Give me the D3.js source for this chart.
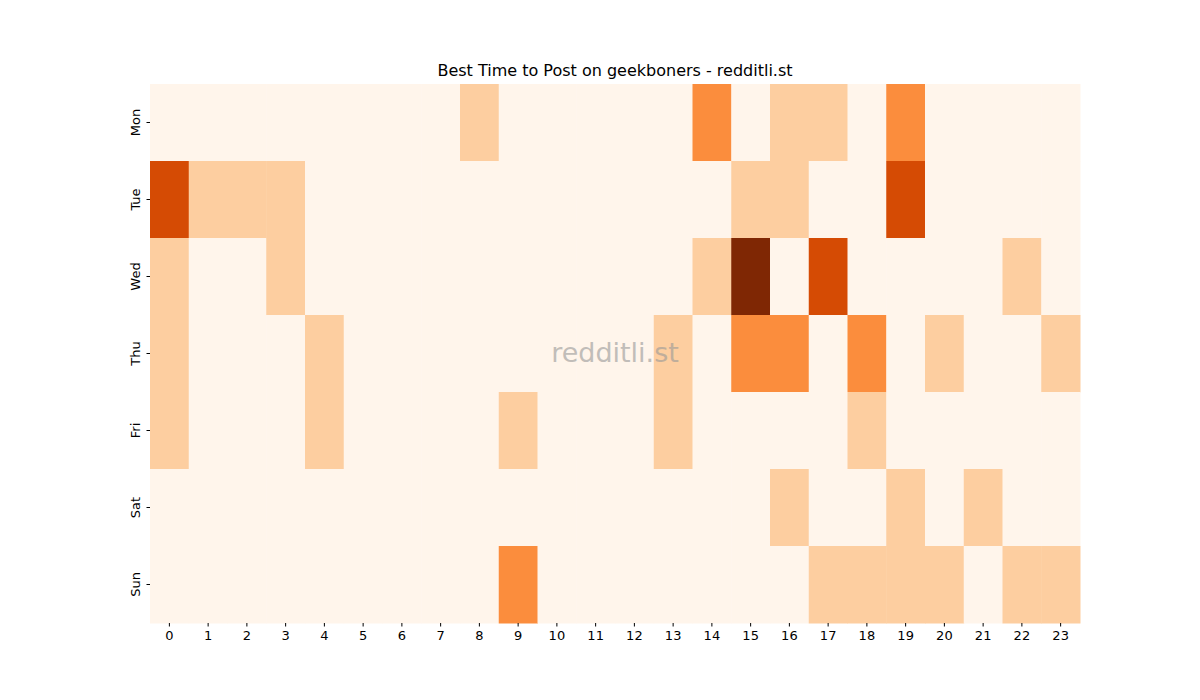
<!DOCTYPE html>
<html>
<head>
<meta charset="utf-8">
<script src="https://cdn.jsdelivr.net/npm/d3@7"></script>
<style>
body { margin: 0; background: #fff; }
text { font-family: "DejaVu Sans", sans-serif; }
</style>
</head>
<body>
<svg id="chart" width="1200" height="700"></svg>
<script>
var days = ["Mon", "Tue", "Wed", "Thu", "Fri", "Sat", "Sun"];
var hours = d3.range(24);

// post counts per hour, one array per day
var mon = [0,0,0,0,0,0,0,0,1,0,0,0,0,0,2,0,1,1,0,2,0,0,0,0];
var tue = [3,1,1,1,0,0,0,0,0,0,0,0,0,0,0,1,1,0,0,3,0,0,0,0];
var wed = [1,0,0,1,0,0,0,0,0,0,0,0,0,0,1,4,0,3,0,0,0,0,1,0];
var thu = [1,0,0,0,1,0,0,0,0,0,0,0,0,1,0,2,2,0,2,0,1,0,0,1];
var fri = [1,0,0,0,1,0,0,0,0,1,0,0,0,1,0,0,0,0,1,0,0,0,0,0];
var sat = [0,0,0,0,0,0,0,0,0,0,0,0,0,0,0,0,1,0,0,1,0,1,0,0];
var sun = [0,0,0,0,0,0,0,0,0,2,0,0,0,0,0,0,0,1,1,1,1,0,1,1];
var values = [mon, tue, wed, thu, fri, sat, sun];

var svg = d3.select("#chart");
var plotLeft = 150, plotRight = 1080, plotTop = 84, plotBottom = 623;

var x = d3.scaleBand().domain(hours).range([plotLeft, plotRight]);
var y = d3.scaleBand().domain(days).range([plotTop, plotBottom]);
var color = d3.scaleSequential(d3.interpolateOranges).domain([0, 4]);

var cells = [];
values.forEach(function(row, i) {
	row.forEach(function(v, h) {
		cells.push({day: days[i], hour: h, value: v});
	});
});

svg.selectAll("rect.cell")
	.data(cells)
	.enter()
	.append("rect")
	.attr("class", "cell")
	.attr("x", function(d) { return x(d.hour) })
	.attr("y", function(d) { return y(d.day) })
	.attr("width", x.bandwidth() + 0.5)
	.attr("height", y.bandwidth() + 0.5)
	.attr("fill", function(d) { return color(d.value) });

var xAxis = svg.append("g")
	.attr("transform", "translate(0," + plotBottom + ")")
	.call(d3.axisBottom(x).tickSize(3.5).tickPadding(4));
xAxis.select(".domain").remove();
xAxis.selectAll("text").style("font-size", "13px").attr("fill", "#000");

var yAxis = svg.append("g")
	.attr("transform", "translate(" + plotLeft + ",0)")
	.call(d3.axisLeft(y).tickSize(3.5));
yAxis.select(".domain").remove();
yAxis.selectAll("text")
	.style("font-size", "13px")
	.attr("fill", "#000")
	.attr("text-anchor", "middle")
	.attr("transform", "rotate(-90)")
	.attr("x", 0)
	.attr("y", -10)
	.attr("dy", 0);

svg.append("text")
	.attr("x", (plotLeft + plotRight) / 2)
	.attr("y", 76)
	.attr("text-anchor", "middle")
	.style("font-size", "16px")
	.text("Best Time to Post on geekboners - redditli.st");

svg.append("text")
	.attr("x", (plotLeft + plotRight) / 2)
	.attr("y", 362)
	.attr("text-anchor", "middle")
	.style("font-size", "27px")
	.attr("fill", "#999")
	.attr("opacity", 0.6)
	.text("redditli.st");
</script>
</body>
</html>
